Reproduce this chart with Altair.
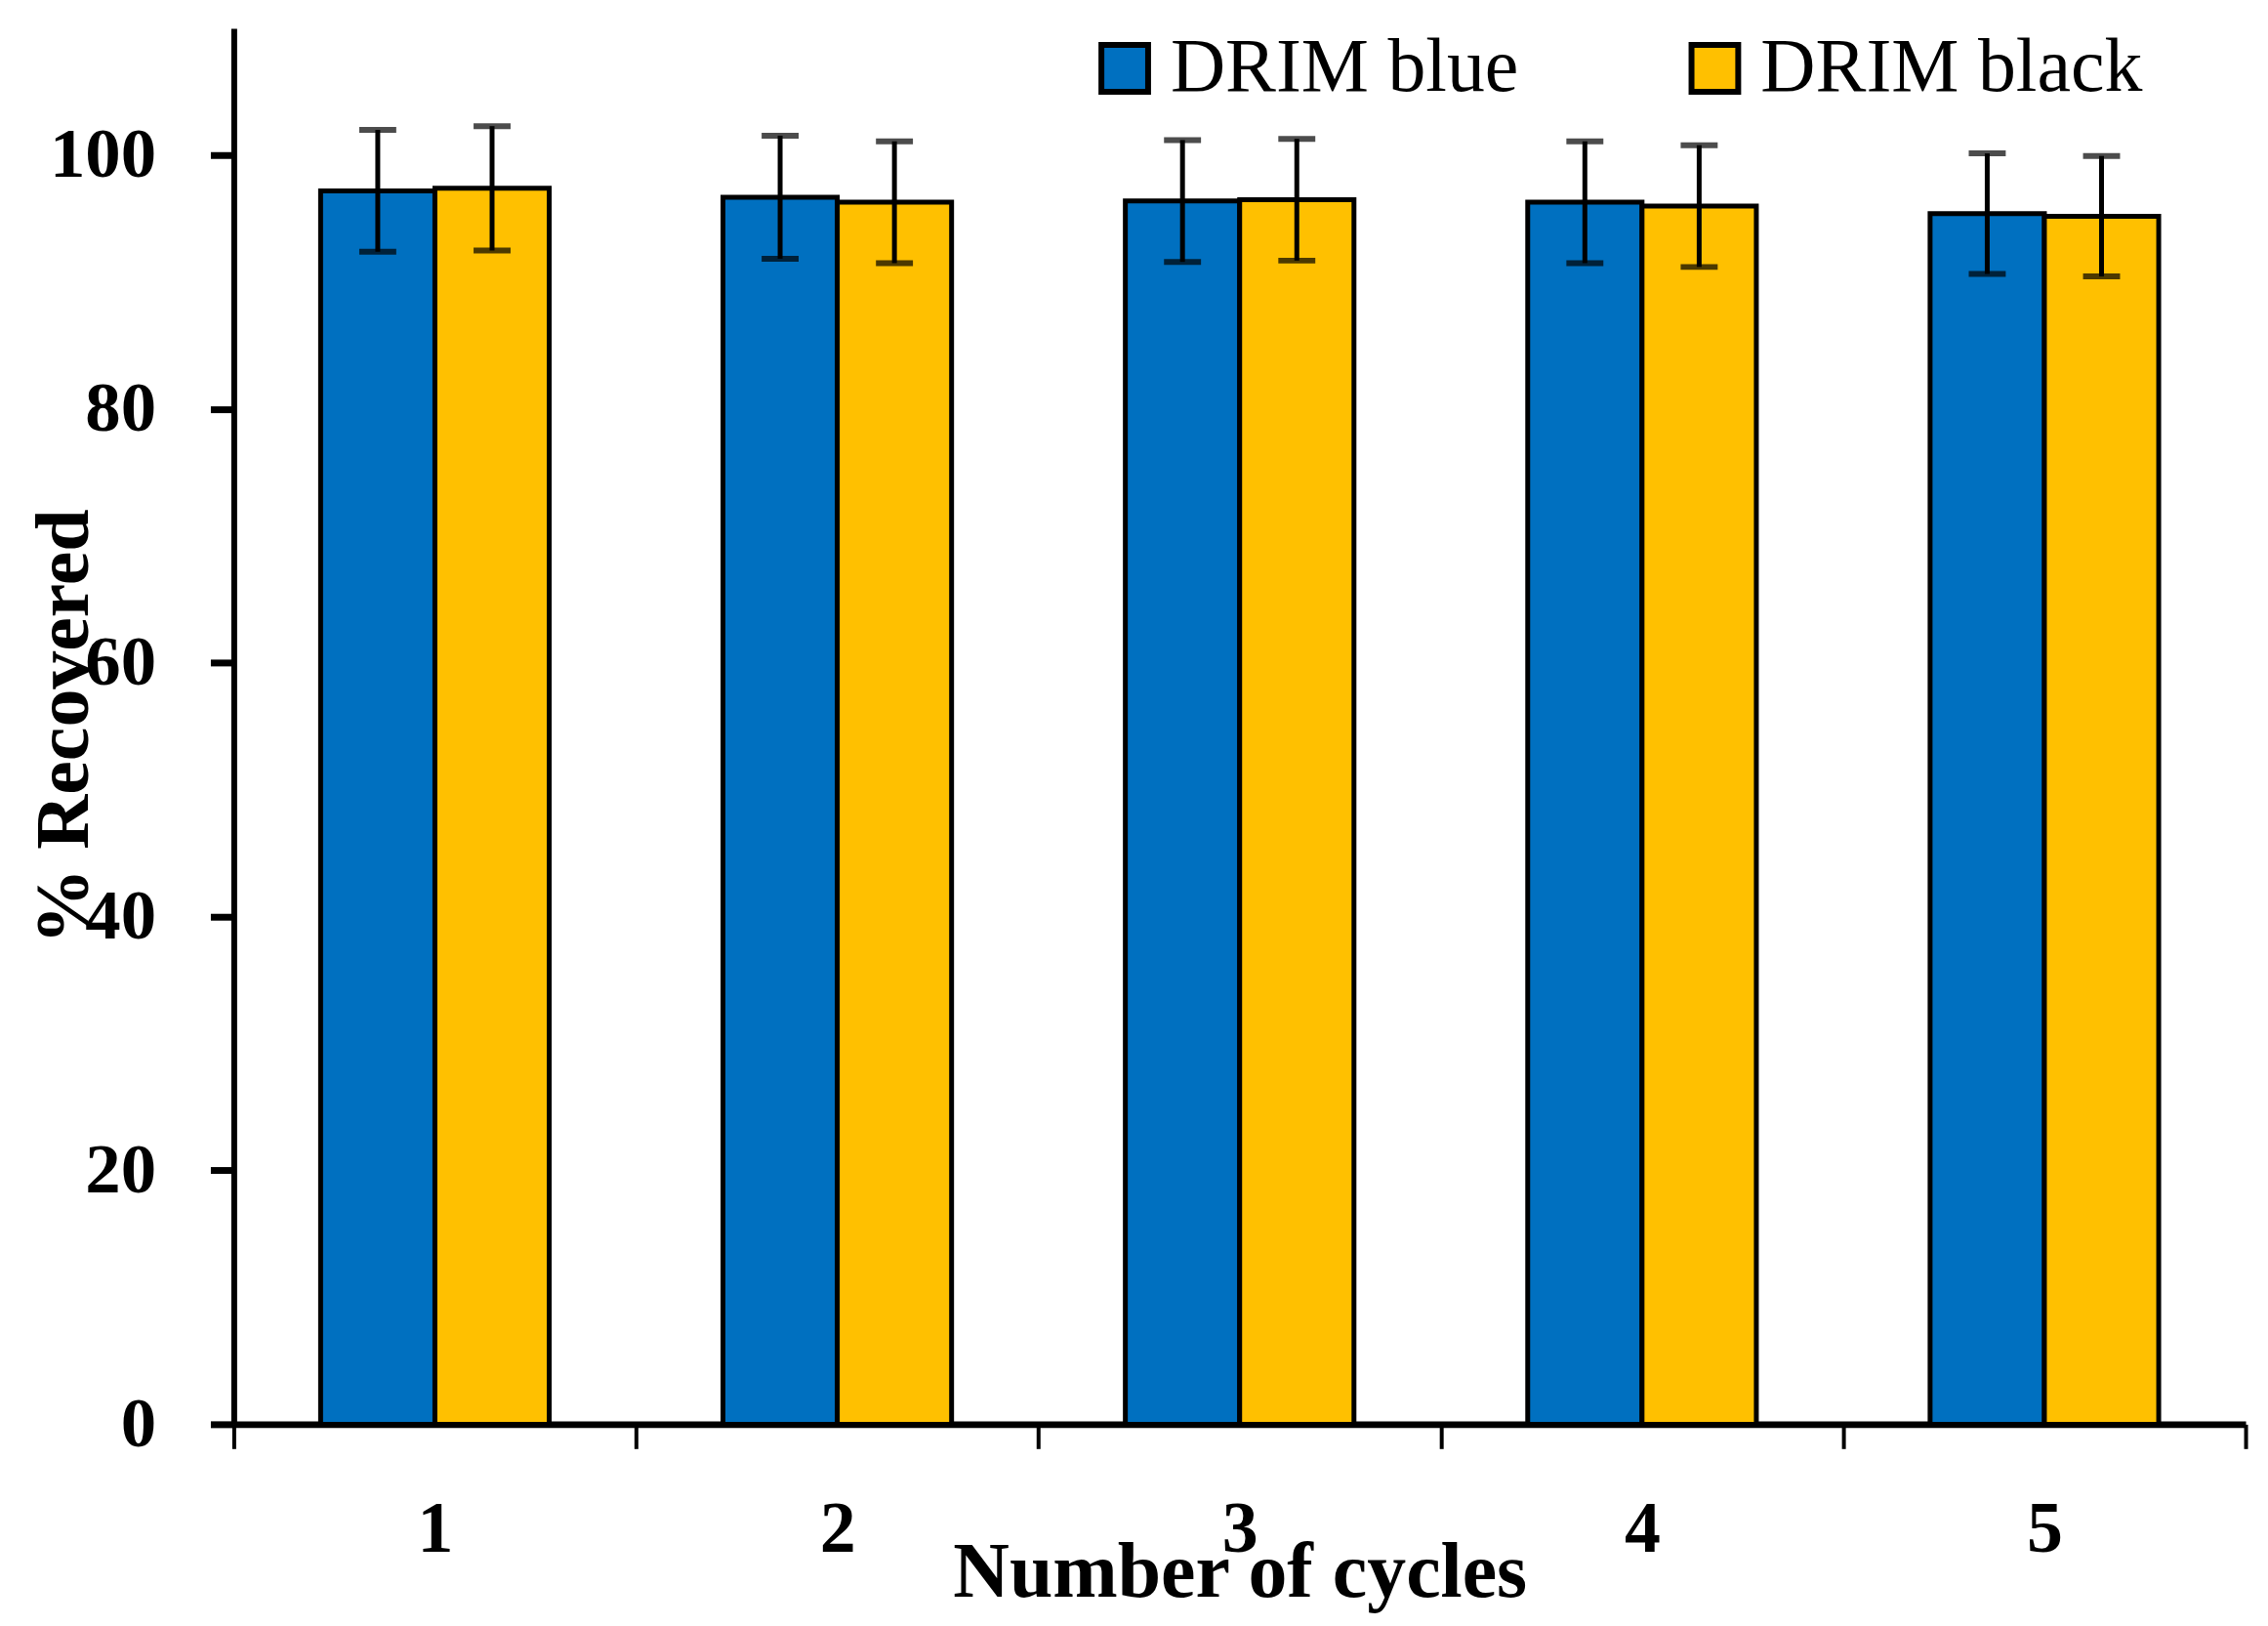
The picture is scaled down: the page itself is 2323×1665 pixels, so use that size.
import altair as alt
import pandas as pd

cycles = ["1", "2", "3", "4", "5"]
series = ["DRIM blue", "DRIM black"]
blue_vals = [97.2, 96.7, 96.4, 96.3, 95.4]
blue_err = [4.8, 4.85, 4.8, 4.8, 4.75]
black_vals = [97.4, 96.3, 96.5, 96.0, 95.2]
black_err = [4.9, 4.8, 4.8, 4.8, 4.75]
colors = ["#0070C0", "#FFC000"]
y_ticks = [0, 20, 40, 60, 80, 100]

rows = []
for i, c in enumerate(cycles):
    rows.append({"cycle": c, "series": series[0], "value": blue_vals[i],
                 "lo": blue_vals[i] - blue_err[i], "hi": blue_vals[i] + blue_err[i]})
    rows.append({"cycle": c, "series": series[1], "value": black_vals[i],
                 "lo": black_vals[i] - black_err[i], "hi": black_vals[i] + black_err[i]})
df = pd.DataFrame(rows)

FONT = "Liberation Serif"

x_enc = alt.X(
    "cycle:N",
    sort=cycles,
    scale=alt.Scale(paddingInner=0, paddingOuter=0),
    axis=alt.Axis(
        title="Number of cycles",
        labelAngle=0,
        tickBand="extent",
        tickSize=25,
        tickWidth=4,
        tickColor="black",
        domainWidth=7,
        domainColor="black",
        labelFont=FONT,
        labelFontSize=74,
        labelFontWeight="bold",
        labelColor="black",
        labelBaseline="alphabetic",
        labelPadding=105,
        titleFont=FONT,
        titleFontSize=80,
        titleFontWeight="bold",
        titleColor="black",
        titleBaseline="alphabetic",
        titleY=177,
    ),
)
xoff = alt.XOffset("series:N", sort=series,
                   scale=alt.Scale(paddingInner=0, paddingOuter=0.76))

y_scale = alt.Scale(domain=[0, 110], nice=False)
y_enc = alt.Y(
    "value:Q",
    scale=y_scale,
    axis=alt.Axis(
        title="% Recovered",
        values=y_ticks,
        grid=False,
        tickSize=24,
        tickWidth=7,
        tickColor="black",
        domainWidth=6,
        domainColor="black",
        labelFont=FONT,
        labelFontSize=73,
        labelFontWeight="bold",
        labelColor="black",
        labelPadding=56,
        titleFont=FONT,
        titleFontSize=78,
        titleFontWeight="bold",
        titleColor="black",
        titleAngle=270,
        titleBaseline="alphabetic",
        titleX=-150,
    ),
)

bars = alt.Chart(df).mark_bar(stroke="black", strokeWidth=5).encode(
    x=x_enc,
    xOffset=xoff,
    y=y_enc,
    color=alt.Color(
        "series:N",
        sort=series,
        scale=alt.Scale(domain=series, range=colors),
        legend=alt.Legend(
            title=None,
            orient="none",
            legendX=876,
            legendY=2,
            direction="horizontal",
            columns=2,
            symbolType="square",
            symbolSize=2300,
            symbolStrokeColor="black",
            symbolStrokeWidth=6,
            labelFont=FONT,
            labelFontSize=78,
            labelColor="black",
            labelOffset=8,
            labelLimit=800,
            columnPadding=162,
        ),
    ),
)

rules = alt.Chart(df).mark_rule(color="black", strokeWidth=5).encode(
    x=alt.X("cycle:N", sort=cycles),
    xOffset=xoff,
    y=alt.Y("lo:Q", scale=y_scale),
    y2="hi:Q",
)
caps_lo = alt.Chart(df).mark_tick(color="black", thickness=6, size=38).encode(
    x=alt.X("cycle:N", sort=cycles),
    xOffset=xoff,
    y=alt.Y("lo:Q", scale=y_scale),
)
caps_hi = alt.Chart(df).mark_tick(color="black", thickness=6, size=38).encode(
    x=alt.X("cycle:N", sort=cycles),
    xOffset=xoff,
    y=alt.Y("hi:Q", scale=y_scale),
)

chart = (
    alt.layer(bars, rules, caps_lo, caps_hi)
    .properties(
        width=2066,
        height=1433,
        autosize=alt.AutoSizeParams(type="none"),
        padding={"left": 232, "top": 19, "right": 15, "bottom": 200},
        background="white",
    )
    .configure_view(stroke=None)
)

chart.save("out.html", embed_options={"renderer": "svg", "actions": False})
